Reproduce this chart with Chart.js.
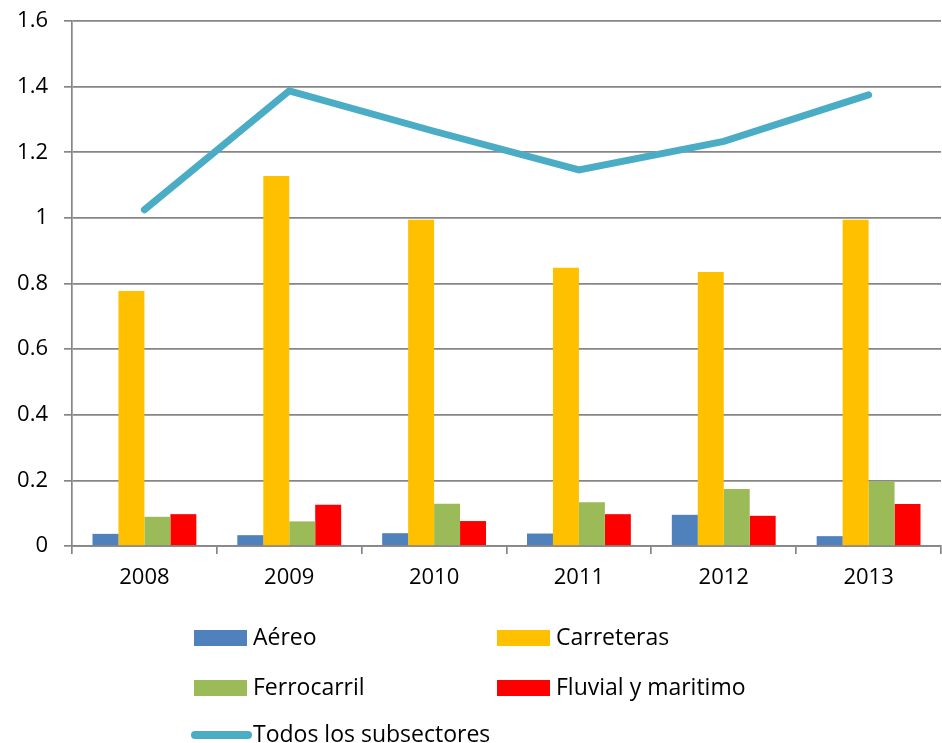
<!DOCTYPE html>
<html>
<head>
<meta charset="utf-8">
<script src="https://cdn.jsdelivr.net/npm/chart.js@4"></script>
<style>
  html, body { margin: 0; padding: 0; background: #fff; }
  #wrap { position: relative; width: 942px; height: 743px; }
</style>
</head>
<body>
<div id="wrap"><canvas id="chart" width="942" height="743"></canvas></div>
<script>
// data
const years = ['2008', '2009', '2010', '2011', '2012', '2013'];
const aereo = [0.037, 0.033, 0.039, 0.038, 0.095, 0.030];
const carreteras = [0.777, 1.128, 0.994, 0.848, 0.835, 0.994];
const ferrocarril = [0.089, 0.075, 0.129, 0.133, 0.174, 0.197];
const fluvial = [0.097, 0.126, 0.076, 0.097, 0.092, 0.128];
const todos = [1.025, 1.387, 1.264, 1.146, 1.233, 1.375];
const yTickLabels = ['0', '0.2', '0.4', '0.6', '0.8', '1', '1.2', '1.4', '1.6'];

const FONT = '"Open Sans", "Liberation Sans", sans-serif';
const gridGray = '#868686';

// legend drawn in two columns under the plot, like the original
const legendPlugin = {
  id: 'gridLegend',
  afterDraw(chart) {
    const ctx = chart.ctx;
    const cols = [194, 497];
    const rows = [638, 688, 735];
    ctx.save();
    ctx.font = '23px ' + FONT;
    ctx.textBaseline = 'middle';
    chart.data.datasets.forEach((ds, i) => {
      const x = cols[i % 2];
      const y = rows[Math.floor(i / 2)];
      if (ds.type === 'line') {
        ctx.strokeStyle = ds.borderColor;
        ctx.lineWidth = 8;
        ctx.lineCap = 'round';
        ctx.beginPath();
        ctx.moveTo(x + 1, y);
        ctx.lineTo(x + 54, y);
        ctx.stroke();
      } else {
        ctx.fillStyle = ds.backgroundColor;
        ctx.fillRect(x, y - 8, 53, 16);
      }
      ctx.fillStyle = '#000';
      ctx.fillText(ds.label, x + 59, y);
    });
    ctx.restore();
  }
};

const ctx = document.getElementById('chart');
new Chart(ctx, {
  type: 'bar',
  data: {
    labels: years,
    datasets: [
      { label: 'Aéreo', data: aereo, backgroundColor: '#4F81BD', order: 1 },
      { label: 'Carreteras', data: carreteras, backgroundColor: '#FFC000', order: 1 },
      { label: 'Ferrocarril', data: ferrocarril, backgroundColor: '#9BBB59', order: 1 },
      { label: 'Fluvial y maritimo', data: fluvial, backgroundColor: '#FF0000', order: 1 },
      {
        type: 'line', label: 'Todos los subsectores', data: todos,
        borderColor: '#4BACC6', backgroundColor: '#4BACC6',
        borderWidth: 7, pointRadius: 0, tension: 0,
        borderCapStyle: 'round', borderJoinStyle: 'miter', order: 0
      }
    ]
  },
  options: {
    responsive: false,
    animation: false,
    datasets: { bar: { categoryPercentage: 0.717, barPercentage: 1.0 } },
    layout: { padding: { top: 21, right: 1, bottom: 143, left: 0 } },
    plugins: { legend: { display: false }, tooltip: { enabled: false } },
    scales: {
      x: {
        afterFit(scale) { scale.height = 54; },
        grid: { display: true, drawOnChartArea: false, drawTicks: true, tickLength: 8, color: gridGray, lineWidth: 1.7, offset: true },
        border: { display: true, color: gridGray, width: 1.7 },
        ticks: { color: '#000', font: { family: FONT, size: 22 }, padding: 11 }
      },
      y: {
        min: 0, max: 1.6,
        afterFit(scale) { scale.width = 72; scale.paddingTop = 0; scale.paddingBottom = 0; },
        grid: { color: gridGray, lineWidth: 1.7, tickLength: 8 },
        border: { display: true, color: gridGray, width: 1.7 },
        ticks: {
          stepSize: 0.2, color: '#000', font: { family: FONT, size: 22 }, padding: 16,
          callback: (v, i) => yTickLabels[i]
        }
      }
    }
  },
  plugins: [legendPlugin]
});
</script>
</body>
</html>
